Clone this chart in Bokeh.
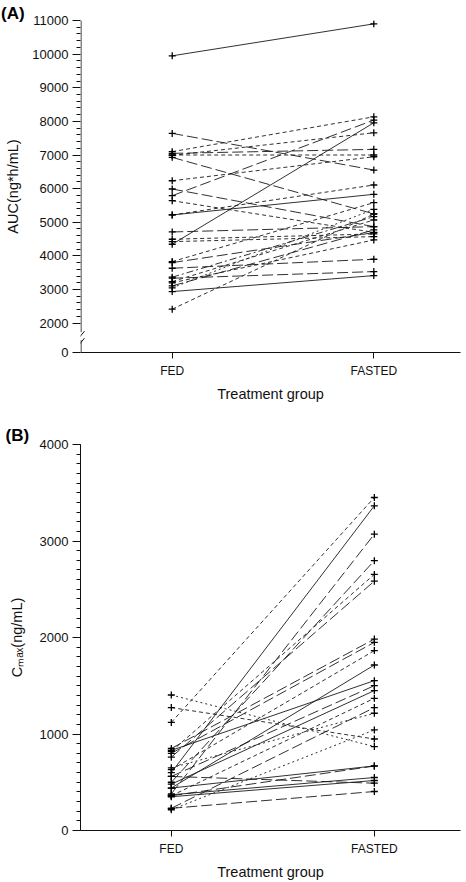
import math
from bokeh.plotting import figure
from bokeh.models import FixedTicker, SingleIntervalTicker, Range1d
from bokeh.layouts import column
from bokeh.embed import file_html
from bokeh.resources import INLINE

# ---------------- data ----------------
groups = ["FED", "FASTED"]

auc_fed = [9950, 7643, 7100, 7049, 7000, 6990, 6930, 6235, 5989, 5790, 5641, 5217, 5217, 4712,
           4495, 4424, 4346, 3830, 3800, 3633, 3366, 3336, 3236, 3108, 2939, 2416, 3050, 3200]
auc_fasted = [10900, 6553, 8136, 7168, 7000, 7661, 5250, 6948, 4870, 8038, 4700, 5831, 6108, 4870,
              4652, 4573, 7958, 5582, 4692, 3900, 5167, 3533, 5068, 4771, 3414, 5246, 5386, 4474]

cmax_fed = [1404, 1274, 1120, 600, 380, 500, 820, 760, 850, 800, 630, 440, 830,
            560, 480, 360, 230, 650, 215, 440, 360, 370, 350, 560, 230]
cmax_fasted = [870, 948, 3451, 3365, 3071, 2796, 2654, 2584, 1984, 1950, 1864, 1715, 1553,
               1501, 1450, 1370, 1274, 1215, 1042, 669, 668, 549, 518, 490, 404]

auc_major = [2000, 3000, 4000, 5000, 6000, 7000, 8000, 9000, 10000, 11000]
cmax_major = [0, 1000, 2000, 3000, 4000]

# ---------------- styles ----------------
auc_line = ["solid", "long", "short", "long", "short", "short", "long", "short", "long", "long",
            "short", "solid", "short", "long", "short", "short", "solid", "short", "long", "long",
            "dashdot", "long", "short", "long", "solid", "short", "dot", "short"]
cmax_line = ["dot", "short", "short", "solid", "long", "long", "short", "long", "long", "long",
             "short", "solid", "solid", "long", "solid", "short", "long", "dot", "dot", "solid",
             "long", "solid", "solid", "long", "long"]
DASH = {"solid": "solid", "short": "4 3", "long": "11 4", "dot": "2 3", "dashdot": "7 3 2 3"}

FONT = "Liberation Sans"
INK = "#111111"


def make_fig(height, top, bottom, left, right, xs, xe, ys, ye, title):
    p = figure(width=466, height=height, x_range=Range1d(xs, xe), y_range=Range1d(ys, ye),
               output_backend="svg", toolbar_location=None, title=title,
               min_border_left=left, min_border_right=right, min_border_top=top,
               min_border_bottom=bottom)
    p.grid.visible = False
    p.outline_line_color = None
    p.background_fill_color = "white"
    p.border_fill_color = "white"
    p.title.text_font = FONT
    p.title.text_font_size = "17px"
    p.title.text_font_style = "bold"
    p.title.text_color = "black"
    p.title.align = "left"
    p.title.standoff = 0
    for ax in (p.xaxis, p.yaxis):
        ax.axis_line_color = INK
        ax.major_tick_line_color = INK
        ax.minor_tick_line_color = INK
        ax.major_tick_in = 0
        ax.minor_tick_in = 0
        ax.major_label_text_font = FONT
        ax.major_label_text_color = INK
        ax.axis_label_text_font = FONT
        ax.axis_label_text_color = INK
        ax.axis_label_text_font_style = "normal"
    p.xaxis.ticker = FixedTicker(ticks=[1, 2])
    p.xaxis.major_label_overrides = {1: groups[0], 2: groups[1]}
    p.xaxis.major_tick_out = 6
    p.xaxis.minor_tick_out = 0
    p.xaxis.major_label_text_font_size = "12px"
    p.xaxis.major_label_standoff = 5
    p.xaxis.axis_label = "Treatment group"
    p.xaxis.axis_label_text_font_size = "14.5px"
    p.xaxis.axis_label_standoff = 5
    p.yaxis.major_tick_out = 8
    p.yaxis.minor_tick_out = 4
    p.yaxis.major_label_text_font_size = "13px"
    p.yaxis.major_label_standoff = 4
    return p


def draw_subjects(p, fed, fasted, styles):
    for key, pattern in DASH.items():
        xs, ys = [], []
        for a, b, s in zip(fed, fasted, styles):
            if s == key:
                xs.append([1, 2])
                ys.append([a, b])
        if xs:
            p.multi_line(xs=xs, ys=ys, line_color="#1a1a1a", line_width=0.9, line_dash=pattern)
    p.scatter(x=[1] * len(fed), y=fed, marker="cross", size=7, line_color="black", line_width=1.3)
    p.scatter(x=[2] * len(fasted), y=fasted, marker="cross", size=7, line_color="black",
              line_width=1.3)


# ---------------- panel A ----------------
A_XS, A_XE = 0.5451, 2.4300
A_ZERO = 1127            # position of "0" on the broken axis
pA = make_fig(408, 20, 56, 80, 6, A_XS, A_XE, A_ZERO, 11000, "(A)")
pA.title.offset = -79.5
pA.title.standoff = -4
minor_a = [v for v in range(2200, 11000, 200) if v % 1000 != 0]
pA.yaxis.ticker = FixedTicker(ticks=[A_ZERO] + auc_major, minor_ticks=minor_a)
pA.yaxis.major_label_overrides = {A_ZERO: "0"}
pA.yaxis.axis_label = "AUC(ng*h/mL)"
pA.yaxis.axis_label_text_font_size = "14.5px"
pA.yaxis.axis_label_standoff = 8
pA.yaxis.axis_line_color = None

pxu_x = (A_XE - A_XS) / 380.0
pxu_y = (11000 - A_ZERO) / 332.0


def yv(px_below_2000):
    return 2000 - px_below_2000 * pxu_y


# y axis line drawn just inside the frame, with the "//" break
ax_x = A_XS + 0.5 * pxu_x
pA.multi_line(xs=[[ax_x, ax_x], [ax_x, ax_x]],
              ys=[[11000, yv(9.0)], [yv(17.0), A_ZERO]], line_color=INK, line_width=1)
pA.multi_line(xs=[[A_XS - 1.0 * pxu_x, A_XS + 4.0 * pxu_x]] * 2,
              ys=[[yv(14.0), yv(8.0)], [yv(21.0), yv(15.0)]], line_color=INK, line_width=1)

draw_subjects(pA, auc_fed, auc_fasted, auc_line)

# ---------------- panel B ----------------
B_XS, B_XE = 0.5527, 2.4244
pB = make_fig(474, 36, 52, 80, 1, B_XS, B_XE, 0, 4000, "(B)")
pB.title.offset = -75
pB.yaxis.ticker = SingleIntervalTicker(interval=1000, num_minor_ticks=10)
pB.yaxis.axis_label = "C\u2098\u2090\u2093(ng/mL)"
pB.yaxis.axis_label_text_font_size = "14.5px"
pB.yaxis.axis_label_standoff = 12
draw_subjects(pB, cmax_fed, cmax_fasted, cmax_line)

layout = column(pA, pB, spacing=0)
open("out.html", "w").write(file_html(layout, INLINE))
